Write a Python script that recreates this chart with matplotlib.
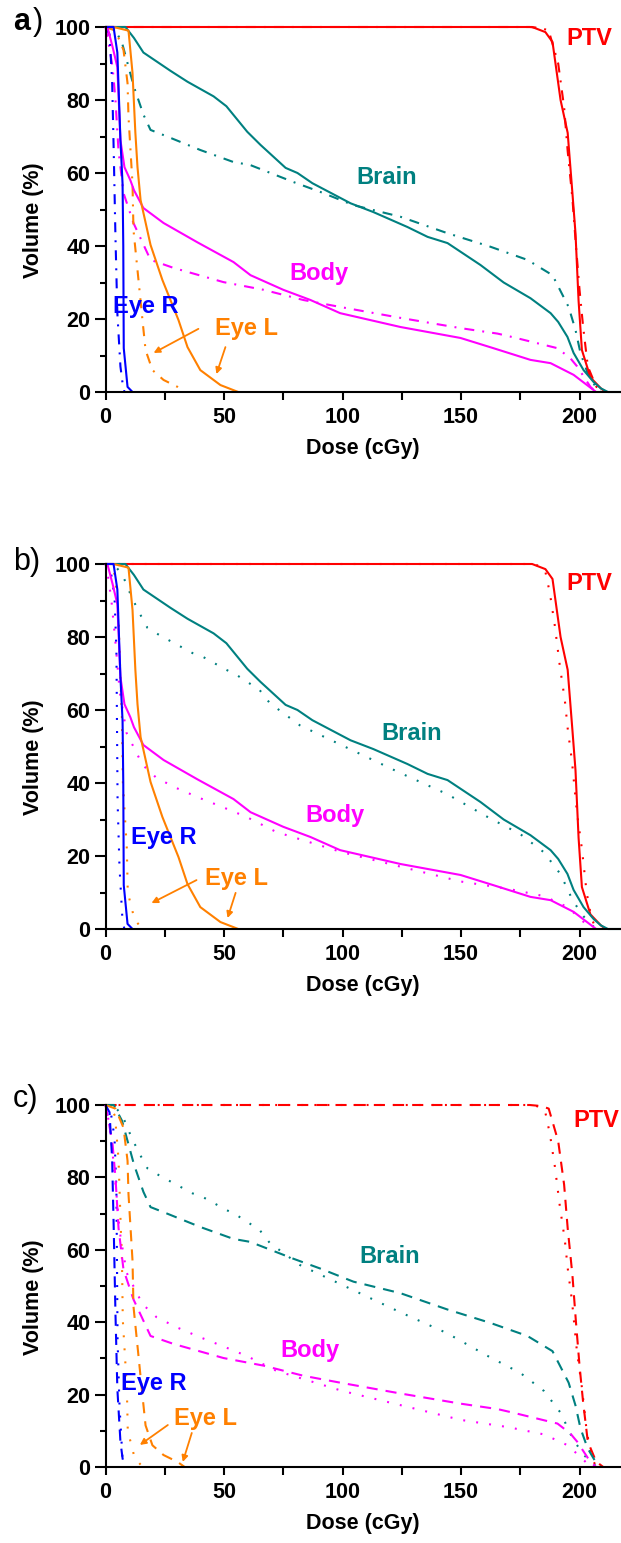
import matplotlib
matplotlib.use("Agg")
import matplotlib.pyplot as plt

plt.rcParams['font.family'] = ['Liberation Sans', 'DejaVu Sans']
plt.rcParams['lines.scale_dashes'] = False

# ---- dose-volume data: three plans (solid / dash-dot or dashed / dotted) ----
# Plan 1 (solid)
ptv1_x = [0, 180, 185.6, 188.6, 192, 195, 197, 198.3, 199.6, 201, 204.6, 209, 211]
ptv1_y = [100, 100, 98.6, 95.9, 80, 71, 54.5, 43.5, 25, 11.5, 4, 1, 0]
brain1_x = [0, 8.4, 12, 16, 27.4, 34.6, 45.6, 51, 59.8, 65.4, 76, 81, 87.3, 103.4, 113, 127.4,
            135.9, 144.3, 158.2, 168, 179.3, 187.8, 191, 194.9, 197.5, 201.7, 206, 209, 212, 217.5]
brain1_y = [100, 100, 97, 93, 88, 85, 81, 78.3, 71.3, 67.7, 61.4, 60, 57.2, 51.7, 49.3, 45.2,
            42.5, 40.8, 34.8, 30, 25.7, 21.6, 19.2, 15.1, 10.7, 6, 2.7, 1, 0, 0]
body1_x = [0, 0.8, 3, 5, 6.3, 8, 10.5, 12, 16, 24.5, 38.8, 54, 61.2, 75, 86.5, 99, 124.5,
           149.8, 163.7, 179.3, 187.8, 197.5, 206, 207]
body1_y = [100, 100, 94.5, 89, 69, 61.6, 58, 55.3, 50.4, 46.3, 41, 35.6, 32, 28, 25.2, 21.6, 17.8,
           14.8, 12, 8.8, 7.9, 4.7, 0.5, 0]
eyer1_x = [0, 3.4, 5, 6.3, 7.2, 7.5, 7.7, 9.3, 11.4]
eyer1_y = [100, 100, 93, 69, 57, 40, 12, 1.4, 0]
eyel1_x = [0, 3.4, 9.7, 11.4, 12.6, 13.5, 14.8, 19, 24, 30.8, 34.6, 40, 48.5, 56]
eyel1_y = [100, 100, 99, 87.4, 71, 61.6, 52.6, 40.3, 30.7, 19.7, 12.3, 6, 1.9, 0]

# Plan 2 (dash-dot in a, dashed in c)
ptv2_x = [0, 179, 184, 187, 191, 193.5, 195, 197, 198.5, 200, 201.5, 203.5, 207, 210]
ptv2_y = [100, 100, 99.7, 99, 90, 78, 66, 53, 40, 28, 18, 7, 1.5, 0]
brain2_x = [0, 3.5, 7, 12, 16, 19, 26, 40, 54, 61, 79.4, 90.7, 104.6, 124.5, 144.3, 162.4,
            178, 188.6, 195.4, 198.3, 200.4, 203.4, 206.8, 209]
brain2_y = [100, 100, 95.6, 83.6, 76, 71.8, 70, 66.3, 63, 62.2, 57.5, 54.8, 51.2, 48, 43.5, 39.8,
            36.2, 32, 23.3, 17, 10.7, 5.2, 1.4, 0]
body2_x = [0, 1.3, 3, 4.2, 5.5, 7.6, 11.8, 19, 28.7, 49.8, 66.7, 83.5, 99, 124.5, 149.8,
           165.4, 172, 190.7, 196.2, 199, 204.6, 207]
body2_y = [100, 95.6, 89, 80, 66, 54.5, 46.3, 36.2, 34, 30.1, 28, 25.2, 23.3, 20.3, 17.5,
           16, 15, 12, 9.2, 7, 1.4, 0]
eyer2_x = [0, 1.7, 2.8, 3.5, 4.2, 5, 6.3, 7.2, 8]
eyer2_y = [100, 98, 85, 65, 42.5, 21.6, 7, 2.4, 0]
eyel2_x = [0, 4.2, 7.6, 9.3, 9.7, 11.4, 11.8, 13.5, 15.6, 16.9, 19.8, 24.5, 30.4, 33.4]
eyel2_y = [100, 99, 93.7, 84.6, 75.4, 57, 44.4, 33.4, 19.7, 11.5, 6, 3.3, 1.4, 0]

# Plan 3 (dotted)
ptv3_x = [0, 180, 183, 185.4, 187.5, 189.6, 191.7, 193.8, 195, 196.8, 198.9, 201, 203, 205, 207]
ptv3_y = [100, 100, 99.5, 98.5, 92, 83, 72, 62.7, 55, 46, 32, 22, 10, 3, 0]
brain3_x = [0, 4, 7.2, 11, 14.3, 17.7, 22.8, 36.7, 41, 51, 55.3, 65, 69.3, 82, 101.8, 124.2,
            144, 162, 175, 185, 192, 197, 201, 205, 208]
brain3_y = [100, 99.5, 97, 91, 86.6, 82.5, 80.5, 75.6, 74.6, 71, 69.6, 65.5, 61.9, 55.8, 49.7, 42.8,
            37, 30.4, 26, 21, 15, 8, 4, 1, 0]
body3_x = [0, 1, 2.5, 4, 6, 8.9, 15.6, 21.5, 30, 39.7, 49.4, 59.5, 72, 83, 100, 125, 150,
           170, 185, 195, 200, 204, 206]
body3_y = [100, 97, 90, 80, 65, 53.7, 45, 41.4, 38.6, 35.9, 33.4, 30.7, 26.6, 24.4, 21, 17, 13,
           11, 9, 6, 3, 0.5, 0]
eyer3_x = [0, 2, 3.8, 4.6, 4.8, 5.1, 5.9, 7.2, 8]
eyer3_y = [100, 99, 91, 76.4, 60, 35, 17, 2, 0]
eyel3_x = [0, 2, 4, 5.5, 6.5, 6.9, 7.3, 9, 9.4, 12.3, 15.7]
eyel3_y = [100, 99.5, 97, 85, 65, 59, 40.6, 22, 10, 2.5, 0]

# ---- styling ----
RED, TEAL, MAG, BLUE, ORANGE = '#FF0000', '#008080', '#FF00FF', '#0000FF', '#FF8000'
LW = 1.5
SOLID = '-'
DASHDOT = (0, (7.2, 5.8, 1.4, 5.8))
DASHED = (0, (8, 5.8))
DOTTED = (0, (1.4, 8))

W, H = 621, 1543
fig = plt.figure(figsize=(W / 100, H / 100), dpi=100)

def px_rect(left, bottom_px, top_px, right=W):
    return [left / W, (H - bottom_px) / H, (right - left) / W, (bottom_px - top_px) / H]

def draw_set(ax, sets, style):
    for (x, y, c) in sets:
        ax.plot(x, y, color=c, lw=LW, linestyle=style, clip_on=False,
                solid_capstyle='butt', dash_capstyle='butt')

def style_axes(ax, h_px):
    ax.set_xlim(0, 217.5)
    ax.set_ylim(0, 100)
    for s in ('top', 'right'):
        ax.spines[s].set_visible(False)
    for s in ('left', 'bottom'):
        ax.spines[s].set_linewidth(1.5)
    ax.set_xticks([0, 50, 100, 150, 200])
    ax.set_xticks([25, 75, 125, 175], minor=True)
    ax.set_yticks([0, 20, 40, 60, 80, 100])
    ax.set_yticks([10, 30, 50, 70, 90], minor=True)
    ax.tick_params(axis='x', which='both', direction='out', length=6, width=1.5, pad=5)
    ax.tick_params(axis='y', which='major', direction='out', length=8, width=1.5, pad=3)
    ax.tick_params(axis='y', which='minor', direction='out', length=4, width=1.5)
    for lab in ax.get_xticklabels() + ax.get_yticklabels():
        lab.set_fontsize(15.5)
        lab.set_fontweight('bold')
    ax.set_xlabel('Dose (cGy)', fontsize=15.5, fontweight='bold')
    ax.set_ylabel('Volume (%)', fontsize=15.5, fontweight='bold')
    ax.xaxis.set_label_coords(0.5, -46 / h_px)
    ax.yaxis.set_label_coords(-62 / 515.5, 0.47)

def labels(ax, pos):
    txt = {'PTV': RED, 'Brain': TEAL, 'Body': MAG, 'Eye R': BLUE, 'Eye L': ORANGE}
    for name, (x, y) in pos.items():
        ax.text(x, y, name, color=txt[name], fontsize=17, fontweight='bold',
                ha='center', va='baseline', clip_on=False)

def arrows(ax, pairs):
    for (x0, y0, x1, y1) in pairs:
        ax.annotate('', xy=(x1, y1), xytext=(x0, y0),
                    arrowprops=dict(arrowstyle='-|>', color=ORANGE, lw=1.3,
                                    mutation_scale=9, shrinkA=0, shrinkB=0))

solid_sets = [(ptv1_x, ptv1_y, RED), (brain1_x, brain1_y, TEAL), (body1_x, body1_y, MAG),
              (eyel1_x, eyel1_y, ORANGE), (eyer1_x, eyer1_y, BLUE)]
plan2_sets = [(ptv2_x, ptv2_y, RED), (brain2_x, brain2_y, TEAL), (body2_x, body2_y, MAG),
              (eyel2_x, eyel2_y, ORANGE), (eyer2_x, eyer2_y, BLUE)]
plan3_sets = [(ptv3_x, ptv3_y, RED), (brain3_x, brain3_y, TEAL), (body3_x, body3_y, MAG),
              (eyel3_x, eyel3_y, ORANGE), (eyer3_x, eyer3_y, BLUE)]

# panel a
ax_a = fig.add_axes(px_rect(105.5, 392, 27))
draw_set(ax_a, plan2_sets, DASHDOT)
draw_set(ax_a, solid_sets, SOLID)
style_axes(ax_a, 365)
labels(ax_a, {'PTV': (204, 95.1), 'Brain': (118.6, 57), 'Body': (89.9, 30.7),
              'Eye R': (16.9, 21.6), 'Eye L': (59.5, 15.6)})
arrows(ax_a, [(39.2, 17.3, 20.3, 10.7), (50.6, 12.3, 46.8, 4.9)])

# panel b
ax_b = fig.add_axes(px_rect(105.5, 929, 564))
draw_set(ax_b, plan3_sets, DOTTED)
draw_set(ax_b, solid_sets, SOLID)
style_axes(ax_b, 365)
labels(ax_b, {'PTV': (204, 93), 'Brain': (129, 51.8), 'Body': (97, 29.3),
              'Eye R': (24.5, 23.3), 'Eye L': (55.3, 12)})
arrows(ax_b, [(38.4, 13.4, 19.4, 7.1), (54.9, 9.9, 51.5, 3.0)])

# panel c
ax_c = fig.add_axes(px_rect(105.5, 1467, 1105))
draw_set(ax_c, plan3_sets, DOTTED)
draw_set(ax_c, plan2_sets, DASHED)
style_axes(ax_c, 362)
labels(ax_c, {'PTV': (207, 93.9), 'Brain': (119.8, 56.4), 'Body': (86.3, 30.4),
              'Eye R': (20.4, 21.3), 'Eye L': (42.1, 11.6)})
arrows(ax_c, [(26.3, 11.6, 14.5, 6.1), (36.4, 9.4, 32.6, 1.4)])

# panel letters
fig.text(13 / W, 1 - 30 / H, 'a', fontsize=22, fontweight='bold', va='baseline')
fig.text(33 / W, 1 - 30 / H, ')', fontsize=22, va='baseline')
fig.text(13 / W, 1 - 570 / H, 'b)', fontsize=22, va='baseline')
fig.text(13 / W, 1 - 1107 / H, 'c)', fontsize=22, va='baseline')

fig.savefig('out.png', dpi=100)
